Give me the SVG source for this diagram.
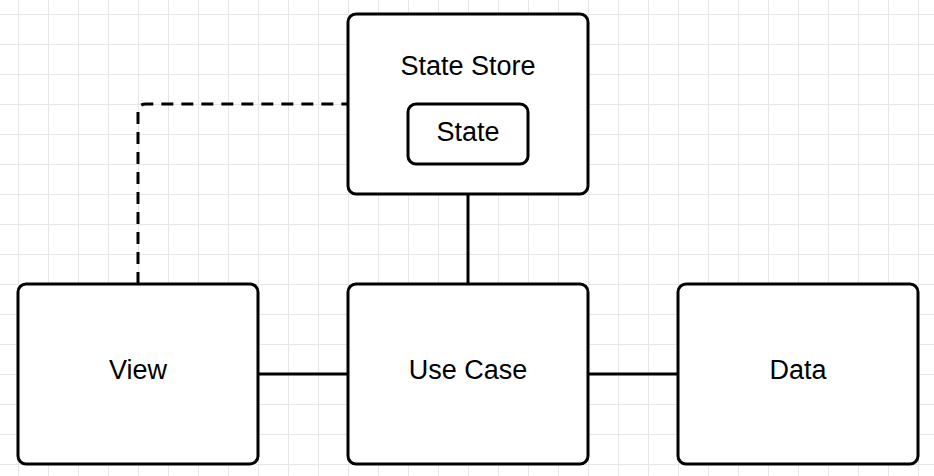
<svg xmlns="http://www.w3.org/2000/svg" width="934" height="476" viewBox="0 0 934 476">
<defs>
<pattern id="grid" x="18" y="14" width="30" height="30" patternUnits="userSpaceOnUse">
<path d="M0.5 0V30M0 0.5H30" fill="none" stroke="#e6e6e6" stroke-width="1"/>
</pattern>
</defs>
<style>
.box{fill:#fff;stroke:#000;stroke-width:3}
.lbl{font-family:"Liberation Sans",Arial,sans-serif;font-size:27px;fill:#000;text-anchor:middle}
.conn{fill:none;stroke:#000;stroke-width:3}
.dash{stroke-dasharray:12 8}
</style>
<rect width="934" height="476" fill="#fff"/>
<rect width="934" height="476" fill="url(#grid)"/>
<g id="connectors">
<path class="conn" d="M258 374H348"/>
<path class="conn" d="M588 374H678"/>
<path class="conn" d="M468 194V284"/>
<path class="conn dash" d="M138 284V112Q138 104 146 104H348"/>
</g>
<g id="state-store">
<rect class="box" x="348" y="14" width="240" height="180" rx="8"/>
<text class="lbl" x="468" y="75">State Store</text>
</g>
<g id="state">
<rect class="box" x="408" y="104" width="120" height="60" rx="8"/>
<text class="lbl" x="468" y="141">State</text>
</g>
<g id="view">
<rect class="box" x="18" y="284" width="240" height="180" rx="8"/>
<text class="lbl" x="138" y="379">View</text>
</g>
<g id="use-case">
<rect class="box" x="348" y="284" width="240" height="180" rx="8"/>
<text class="lbl" x="468" y="379">Use Case</text>
</g>
<g id="data">
<rect class="box" x="678" y="284" width="240" height="180" rx="8"/>
<text class="lbl" x="798" y="379">Data</text>
</g>
</svg>
